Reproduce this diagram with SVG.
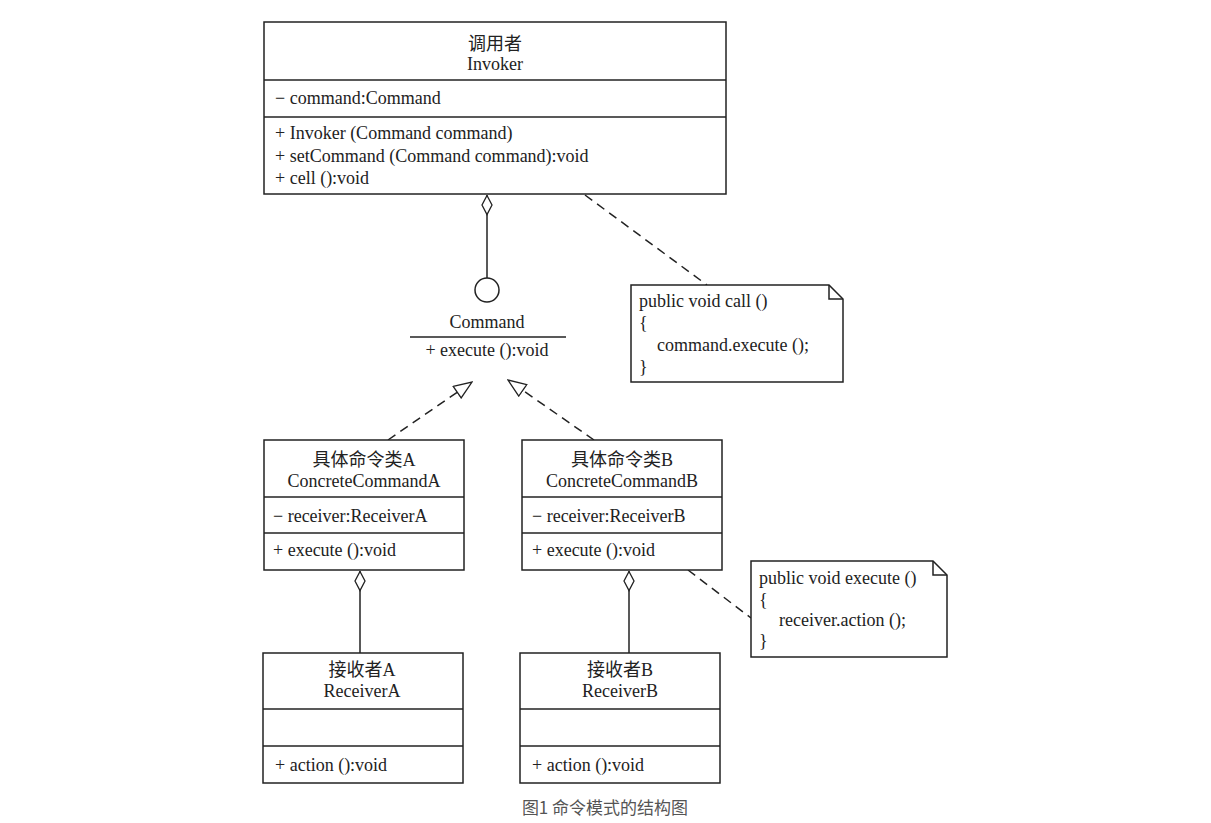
<svg xmlns="http://www.w3.org/2000/svg" width="1211" height="823" viewBox="0 0 1211 823">
<style>
.box{fill:#fff;stroke:#222;stroke-width:1.5}
.ln{stroke:#222;stroke-width:1.5;fill:none}
.dash{stroke:#222;stroke-width:1.5;fill:none;stroke-dasharray:9 6}
text{font-family:"Liberation Serif","Noto Sans CJK SC",serif;font-size:18px;fill:#222}
.c{text-anchor:middle}
.cap{font-family:"Noto Sans CJK SC","Liberation Sans",sans-serif;font-size:17px;fill:#555}
</style>
<defs>
<marker id="dia" viewBox="0 0 22 12" refX="0" refY="6" markerWidth="22" markerHeight="12" markerUnits="userSpaceOnUse" orient="auto">
<path d="M0.5 6 L10 1 L19.5 6 L10 11 Z" fill="#fff" stroke="#222" stroke-width="1.3"/>
</marker>
<marker id="tri" viewBox="0 0 20 16" refX="19" refY="8" markerWidth="20" markerHeight="16" markerUnits="userSpaceOnUse" orient="auto">
<path d="M1 1 L19 8 L1 15 Z" fill="#fff" stroke="#222" stroke-width="1.3"/>
</marker>
</defs>
<rect width="1211" height="823" fill="#fff"/>
<g id="connectors">
<line class="ln" x1="487" y1="195" x2="487" y2="278" marker-start="url(#dia)"/>
<line class="dash" x1="585" y1="195" x2="707" y2="285"/>
<line class="dash" x1="388" y1="440" x2="472" y2="382" marker-end="url(#tri)"/>
<line class="dash" x1="594" y1="440" x2="508" y2="380" marker-end="url(#tri)"/>
<line class="ln" x1="360" y1="571" x2="360" y2="653" marker-start="url(#dia)"/>
<line class="ln" x1="629" y1="571" x2="629" y2="653" marker-start="url(#dia)"/>
<line class="dash" x1="688" y1="570" x2="751" y2="618"/>
</g>
<g id="invoker">
<rect class="box" x="264" y="22" width="462" height="172"/>
<line class="ln" x1="264" y1="80" x2="726" y2="80"/>
<line class="ln" x1="264" y1="117" x2="726" y2="117"/>
<text class="c" x="495" y="50">调用者</text>
<text class="c" x="495" y="70">Invoker</text>
<text x="275" y="104">− command:Command</text>
<text x="275" y="139">+ Invoker (Command command)</text>
<text x="275" y="162">+ setCommand (Command command):void</text>
<text x="275" y="184">+ cell ():void</text>
</g>
<g id="command">
<circle class="box" cx="487" cy="290" r="12"/>
<text class="c" x="487" y="328">Command</text>
<line class="ln" x1="410" y1="337" x2="566" y2="337"/>
<text class="c" x="487" y="356">+ execute ():void</text>
</g>
<g id="note1">
<path class="box" d="M631 285 H829 L843 299 V382 H631 Z"/>
<path class="ln" d="M829 285 V299 H843"/>
<text x="639" y="307">public void call ()</text>
<text x="639" y="329">{</text>
<text x="657" y="351">command.execute ();</text>
<text x="639" y="373">}</text>
</g>
<g id="concreteA">
<rect class="box" x="264" y="440" width="200" height="130"/>
<line class="ln" x1="264" y1="497" x2="464" y2="497"/>
<line class="ln" x1="264" y1="533" x2="464" y2="533"/>
<text class="c" x="364" y="466">具体命令类A</text>
<text class="c" x="364" y="487">ConcreteCommandA</text>
<text x="273" y="522">− receiver:ReceiverA</text>
<text x="273" y="556">+ execute ():void</text>
</g>
<g id="concreteB">
<rect class="box" x="522" y="440" width="200" height="130"/>
<line class="ln" x1="522" y1="497" x2="722" y2="497"/>
<line class="ln" x1="522" y1="533" x2="722" y2="533"/>
<text class="c" x="622" y="466">具体命令类B</text>
<text class="c" x="622" y="487">ConcreteCommandB</text>
<text x="532" y="522">− receiver:ReceiverB</text>
<text x="532" y="556">+ execute ():void</text>
</g>
<g id="note2">
<path class="box" d="M751 561 H933 L947 575 V657 H751 Z"/>
<path class="ln" d="M933 561 V575 H947"/>
<text x="759" y="584">public void execute ()</text>
<text x="759" y="606">{</text>
<text x="779" y="626">receiver.action ();</text>
<text x="759" y="647">}</text>
</g>
<g id="receiverA">
<rect class="box" x="263" y="653" width="200" height="130"/>
<line class="ln" x1="263" y1="709" x2="463" y2="709"/>
<line class="ln" x1="263" y1="746" x2="463" y2="746"/>
<text class="c" x="362" y="676">接收者A</text>
<text class="c" x="362" y="697">ReceiverA</text>
<text x="275" y="771">+ action ():void</text>
</g>
<g id="receiverB">
<rect class="box" x="520" y="653" width="200" height="130"/>
<line class="ln" x1="520" y1="709" x2="720" y2="709"/>
<line class="ln" x1="520" y1="746" x2="720" y2="746"/>
<text class="c" x="620" y="676">接收者B</text>
<text class="c" x="620" y="697">ReceiverB</text>
<text x="532" y="771">+ action ():void</text>
</g>
<text class="cap c" x="605" y="814">图1 命令模式的结构图</text>
</svg>
